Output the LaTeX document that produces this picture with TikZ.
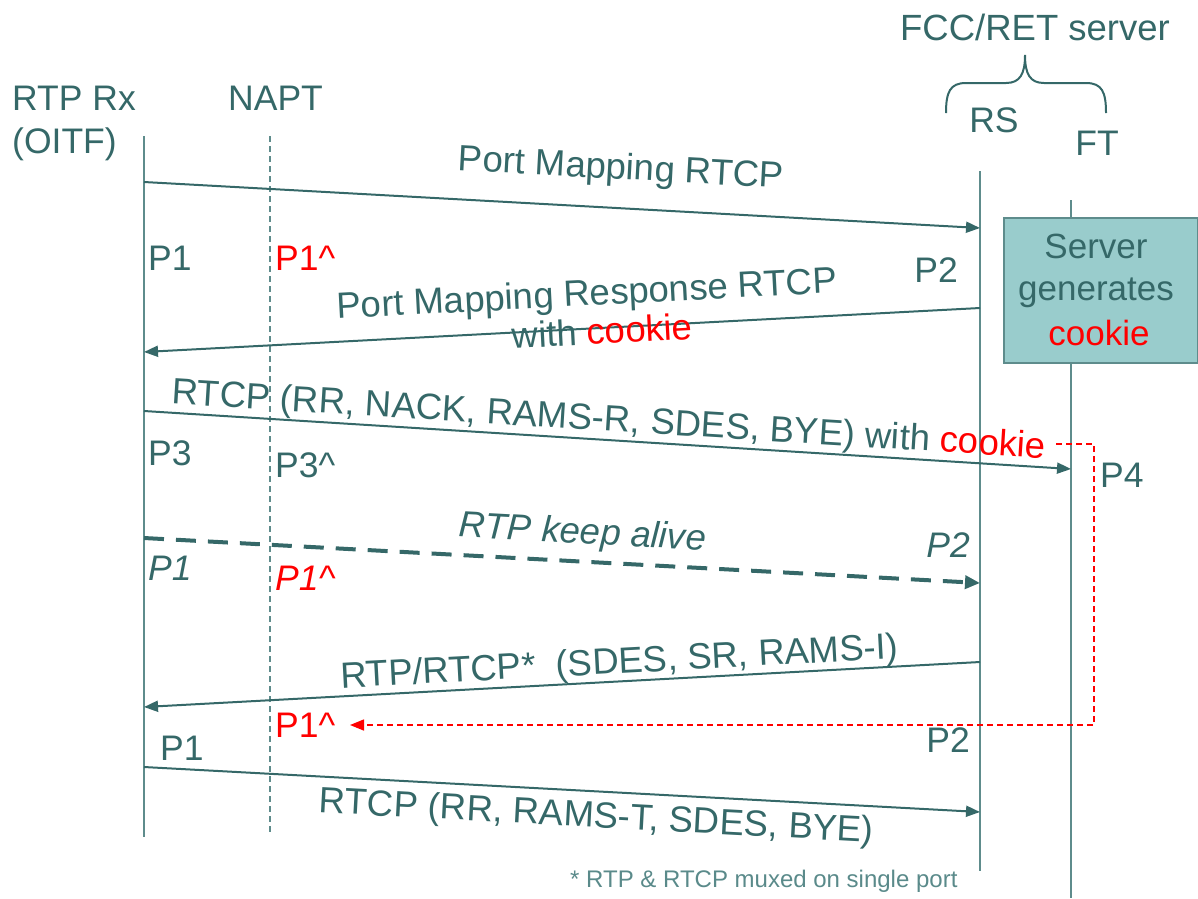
\documentclass[tikz,border=0pt]{standalone}
\usepackage{fontspec}
\setmainfont{Liberation Sans}
\usetikzlibrary{arrows.meta}
\definecolor{tc}{HTML}{356868}
\definecolor{lc}{HTML}{5E8C8C}
\definecolor{bx}{HTML}{99CCCC}
\definecolor{rd}{HTML}{FF0000}
\definecolor{fn}{HTML}{5A8A8A}
\begin{document}
\begin{tikzpicture}[x=1pt,y=-1pt,
  lbl/.style={inner sep=0pt, text=tc, font=\fontsize{35.5}{40}\selectfont},
  plbl/.style={lbl, anchor=base west},
  prlbl/.style={lbl, anchor=base east},
  life/.style={draw=lc, line width=2pt},
  napt/.style={draw=lc, line width=1.3pt, dash pattern=on 6pt off 4pt},
  msg/.style={draw=tc, line width=2pt, -{Triangle[length=14pt,width=11pt]}},
  keep/.style={draw=tc, line width=4pt, dash pattern=on 20pt off 12pt, -{Triangle[length=15pt,width=13pt]}},
  rdash/.style={draw=rd, line width=1.5pt, dash pattern=on 6pt off 4pt, -{Triangle[length=14pt,width=11pt]}},
  mlbl/.style={lbl, sloped, anchor=base, font=\fontsize{36.5}{41}\selectfont}
]
\useasboundingbox (0,0) rectangle (1198,898);

% headers
\node[plbl] (hrx) at (12,110) {RTP Rx};
\node[plbl] (hoitf) at (12,153) {(OITF)};
\node[plbl] (hnapt) at (228,110) {NAPT};
\node[lbl, anchor=base, font=\fontsize{36.5}{41}\selectfont] (hsrv) at (1035,40) {FCC/RET server};
\node[lbl, anchor=base] (hrs) at (994,132) {RS};
\node[lbl, anchor=base] (hft) at (1097,155) {FT};
\draw[draw=tc, line width=2pt] (946,113) .. controls (946,92) and (950,83) .. (966,83)
  -- (1006,83) .. controls (1020,83) and (1025,74) .. (1025,55)
  .. controls (1025,74) and (1030,83) .. (1044,83)
  -- (1086,83) .. controls (1102,83) and (1106,92) .. (1106,113);

% lifelines
\coordinate (rxT) at (144,136); \coordinate (rxB) at (144,837);
\coordinate (naT) at (270,136); \coordinate (naB) at (270,833);
\coordinate (rsT) at (980,171); \coordinate (rsB) at (980,871);
\coordinate (ftT) at (1071,200); \coordinate (ftB) at (1071,898);
\draw[life] (rxT) -- (rxB);
\draw[napt] (naT) -- (naB);
\draw[life] (rsT) -- (rsB);
\draw[life] (ftT) -- (ftB);

% server box
\node[draw=lc, fill=bx, line width=1.5pt, minimum width=194pt, minimum height=145pt,
      anchor=north west, inner sep=0pt] (box) at (1003,217) {};
\node[lbl, anchor=base, font=\fontsize{35}{40}\selectfont] (bx1) at (1096,258) {Server};
\node[lbl, anchor=base, font=\fontsize{35}{40}\selectfont] (bx2) at (1096,300) {generates};
\node[lbl, anchor=base, text=rd, font=\fontsize{35}{40}\selectfont] (bx3) at (1099,345) {cookie};

% message end points
\coordinate (m1a) at (144,182); \coordinate (m1b) at (980,228);
\coordinate (m2a) at (980,308); \coordinate (m2b) at (144,352);
\coordinate (m3a) at (144,411); \coordinate (m3b) at (1071,469);
\coordinate (m4a) at (144,538); \coordinate (m4b) at (980,583);
\coordinate (m5a) at (980,662); \coordinate (m5b) at (144,707);
\coordinate (m6a) at (144,767); \coordinate (m6b) at (980,812);

\draw[msg] (m1a) -- node[mlbl, pos=0.568, yshift=29pt] (l1) {Port Mapping RTCP} (m1b);
\draw[msg] (m2a) -- node[mlbl, pos=0.468, yshift=23pt] (l2a) {Port Mapping Response RTCP}
  node[mlbl, pos=0.452, yshift=-16pt] (l2b) {with \textcolor{rd}{cookie}} (m2b);
\draw[msg] (m3a) -- node[mlbl, pos=0.5, yshift=9pt] (l3) {RTCP (RR, NACK, RAMS-R, SDES, BYE) with \textcolor{rd}{cookie}} (m3b);
\draw[keep] (m4a) -- node[mlbl, pos=0.523, yshift=18pt] (l4) {\itshape RTP keep alive} (m4b);
\draw[msg] (m5a) -- node[mlbl, pos=0.43, yshift=8pt] (l5) {RTP/RTCP*\ \ (SDES, SR, RAMS-I)} (m5b);
\draw[msg] (m6a) -- node[mlbl, pos=0.543, yshift=-36pt] (l6) {RTCP (RR, RAMS-T, SDES, BYE)} (m6b);

% red cookie path
\coordinate (c1) at (1056,444); \coordinate (c2) at (1094,444);
\coordinate (c3) at (1094,725); \coordinate (c4) at (350,725);
\draw[rdash] (c1) -- (c2) -- (c3) -- (c4);

% port labels
\node[plbl] (p1a) at (148,270) {P1};
\node[plbl, text=rd] (p1ha) at (275,270) {P1\^{}};
\node[prlbl] (p2a) at (958,282) {P2};
\node[plbl] (p3) at (148,465) {P3};
\node[plbl] (p3h) at (275,477) {P3\^{}};
\node[plbl] (p4) at (1100,487) {P4};
\node[plbl] (p1b) at (148,580) {\itshape P1};
\node[plbl, text=rd] (p1hb) at (275,590) {\itshape P1\^{}};
\node[prlbl] (p2b) at (970,557) {\itshape P2};
\node[plbl, text=rd] (p1hc) at (275,737) {P1\^{}};
\node[plbl] (p1c) at (160,760) {P1};
\node[prlbl] (p2c) at (970,752) {P2};

% footnote
\node[inner sep=0pt, anchor=base west, text=fn, font=\fontsize{24}{28}\selectfont] (fnote) at (570,887) {* RTP \& RTCP muxed on single port};
\end{tikzpicture}
\end{document}
